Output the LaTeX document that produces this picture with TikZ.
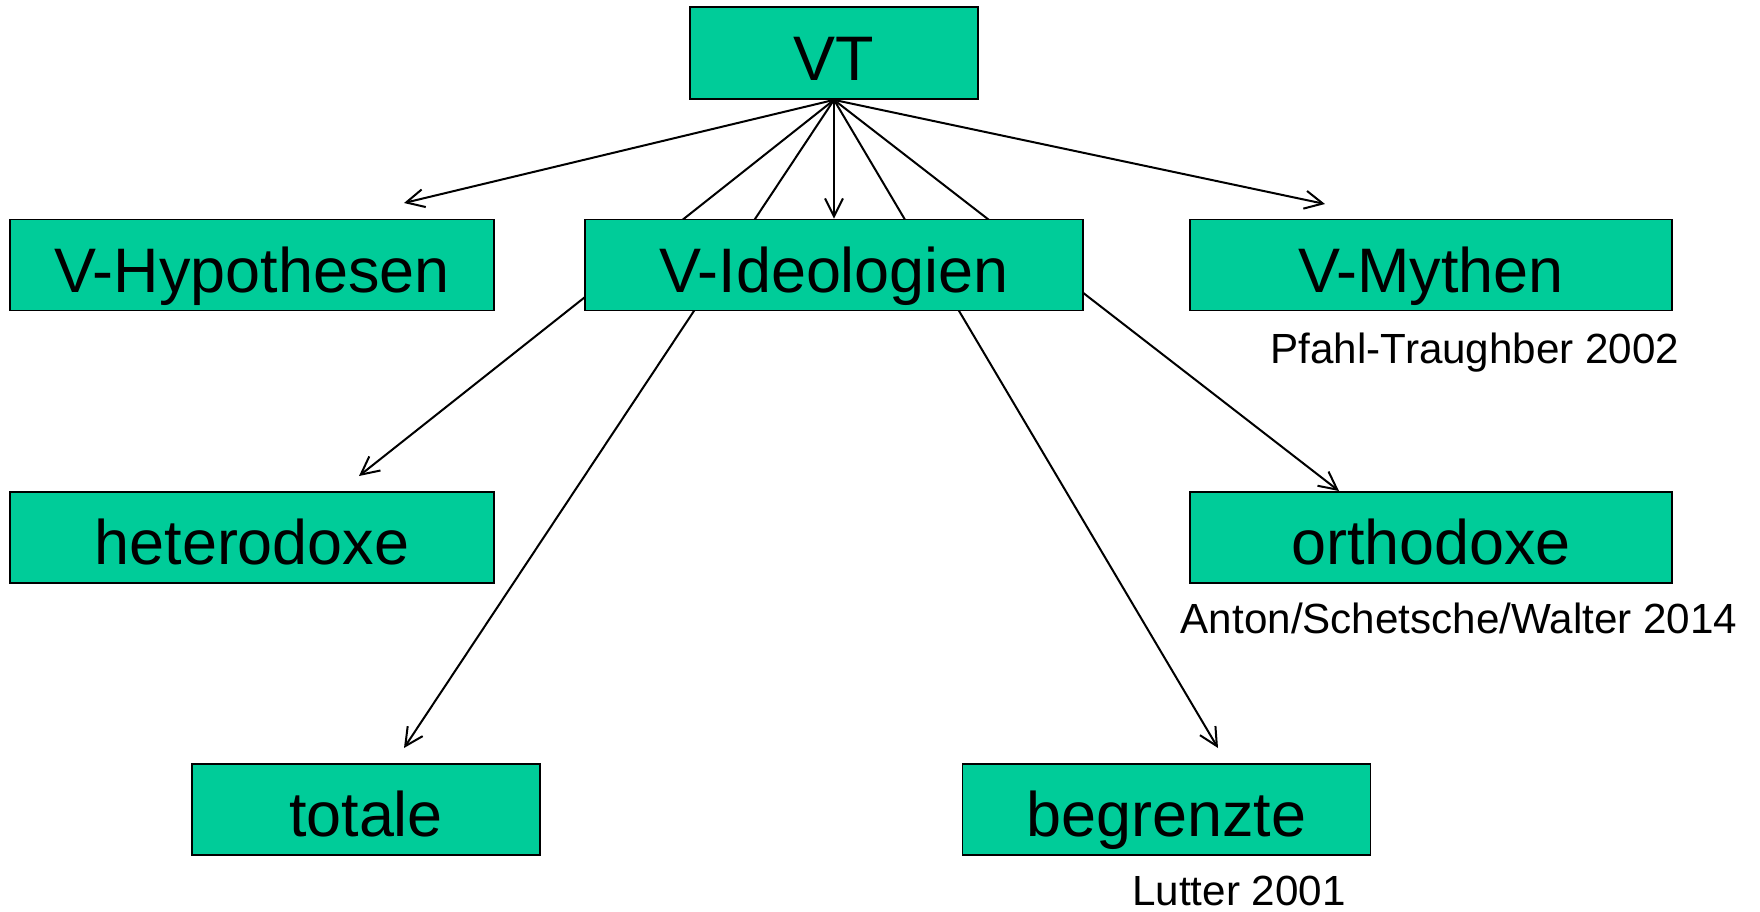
\documentclass[tikz,border=0pt]{standalone}
\usepackage{fontspec}
\setmainfont{Liberation Sans}
\usepackage{tikz}
\usetikzlibrary{arrows.meta,backgrounds}

\definecolor{boxgreen}{RGB}{0,204,153}

\tikzset{
	box/.style={draw=black, line width=0.5pt, fill=boxgreen, inner sep=0pt,
		minimum height=0.91cm, text height=0.54cm, text depth=0pt,
		font=\fontsize{17.9pt}{20pt}\selectfont},
	source/.style={anchor=base, inner sep=0pt, font=\fontsize{12pt}{14pt}\selectfont},
	link/.style={line width=0.57pt, -{Straight Barb[length=1.8mm, width=1.8mm]}}
}

\begin{document}
\begin{tikzpicture}
	\useasboundingbox (0,0) rectangle (17.6,-9.11);

	\node[box, minimum width=2.88cm, minimum height=0.92cm] (vt) at (8.34,-0.53) {VT};
	\node[box, minimum width=4.84cm] (hyp) at (2.52,-2.65) {V-Hypothesen};
	\node[box, minimum width=4.98cm] (ideo) at (8.34,-2.65) {V-Ideologien};
	\node[box, minimum width=4.82cm] (myth) at (14.31,-2.65) {V-Mythen};
	\node[box, minimum width=4.84cm] (hetero) at (2.52,-5.375) {heterodoxe};
	\node[box, minimum width=4.82cm] (ortho) at (14.31,-5.375) {orthodoxe};
	\node[box, minimum width=3.48cm] (totale) at (3.66,-8.095) {totale};
	\node[box, minimum width=4.08cm] (begr) at (11.665,-8.095) {begrenzte};

	\node[source] (pfahl) at (14.75,-3.63) {Pfahl-Traughber 2002};
	\node[source] (anton) at (14.59,-6.33) {Anton/Schetsche/Walter 2014};
	\node[source] (lutter) at (12.39,-9.05) {Lutter 2001};

	% arrow ends
	\coordinate (hyp-in) at (4.04,-2.03);
	\coordinate (myth-in) at (13.25,-2.04);
	\coordinate (hetero-in) at (3.59,-4.76);
	\coordinate (ortho-in) at (13.39,-4.91);
	\coordinate (totale-in) at (4.04,-7.48);
	\coordinate (begr-in) at (12.18,-7.48);

	\begin{scope}[on background layer]
		\draw[link] (vt.south) -- (hyp-in);
		\draw[link] (vt.south) -- (ideo.north);
		\draw[link] (vt.south) -- (myth-in);
		\draw[link] (vt.south) -- (hetero-in);
		\draw[link] (vt.south) -- (ortho-in);
		\draw[link] (vt.south) -- (totale-in);
		\draw[link] (vt.south) -- (begr-in);
	\end{scope}
\end{tikzpicture}
\end{document}
